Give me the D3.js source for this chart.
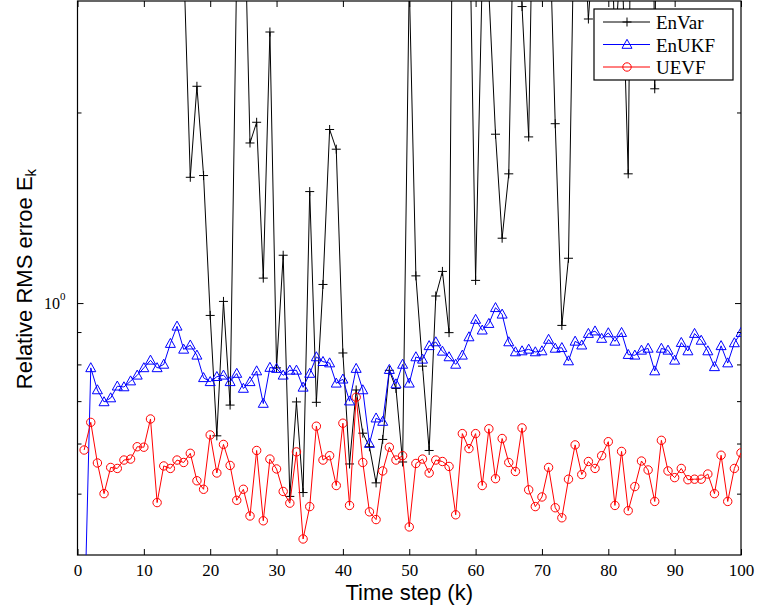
<!DOCTYPE html>
<html>
<head>
<meta charset="utf-8">
<script src="https://cdn.jsdelivr.net/npm/d3@7"></script>
<style>
body { margin: 0; background: #fff; }
.serif { font-family: "Liberation Serif", "Times New Roman", serif; }
.sans { font-family: "Liberation Sans", Arial, sans-serif; }
</style>
</head>
<body>
<script>
// time steps k = 1..100
const steps = d3.range(1, 101)

// EnVar goes far above the axis limit most of the time
const envar = [5.2, 8.1, 6.3, 4.7, 9.5, 7.2, 5.8, 12, 6.6, 4.9, 8.8, 5.5, 7.7, 10.3, 6.1,
  3.5, 1.58, 2.20, 1.59, 0.956, 0.617, 1.006, 0.690, 3.4, 5.0,
  1.79, 1.93, 1.095, 2.68, 0.79, 1.19, 0.495, 0.698, 0.502, 1.50,
  0.697, 1.07, 1.88, 1.75, 0.834, 0.557, 0.729, 0.623, 0.593, 0.520,
  0.609, 0.783, 0.733, 0.561, 3.22, 1.104, 0.795, 0.585, 1.026, 1.122,
  0.898, 19, 8, 4.66, 1.086, 3.3, 3.1, 1.848, 1.266, 1.60,
  5.9, 2.94, 1.83, 7.6, 6, 4.45, 1.92, 0.922, 1.177, 5.1,
  4.5, 2.81, 4, 3.5, 6, 2.5, 3.7, 1.60, 20, 6,
  50, 2.18, 50, 12, 7, 9, 15, 6, 11, 8, 14, 10, 7, 9, 13]

const enukf = [0.30, 0.790, 0.729, 0.698, 0.708, 0.739, 0.737, 0.753, 0.769, 0.790,
  0.812, 0.790, 0.800, 0.863, 0.919, 0.845, 0.858, 0.827, 0.762, 0.751,
  0.765, 0.769, 0.751, 0.774, 0.733, 0.751, 0.781, 0.694, 0.791, 0.788,
  0.769, 0.783, 0.783, 0.736, 0.774, 0.822, 0.808, 0.804, 0.747, 0.758,
  0.700, 0.788, 0.729, 0.600, 0.658, 0.650, 0.785, 0.745, 0.800, 0.747,
  0.822, 0.815, 0.856, 0.868, 0.839, 0.822, 0.800, 0.827, 0.884, 0.942,
  0.906, 0.928, 0.983, 0.960, 0.868, 0.837, 0.840, 0.845, 0.837, 0.840,
  0.876, 0.848, 0.850, 0.810, 0.870, 0.858, 0.895, 0.903, 0.879, 0.897,
  0.870, 0.898, 0.829, 0.827, 0.842, 0.848, 0.781, 0.848, 0.842, 0.812,
  0.866, 0.840, 0.895, 0.873, 0.840, 0.793, 0.856, 0.804, 0.865, 0.898]

const uevf = [0.586, 0.648, 0.559, 0.500, 0.550, 0.548, 0.565, 0.567, 0.593, 0.592,
  0.656, 0.484, 0.553, 0.548, 0.565, 0.560, 0.579, 0.524, 0.508, 0.619,
  0.539, 0.598, 0.554, 0.488, 0.508, 0.461, 0.585, 0.453, 0.567, 0.547,
  0.504, 0.483, 0.582, 0.424, 0.477, 0.639, 0.565, 0.574, 0.515, 0.646,
  0.479, 0.710, 0.560, 0.468, 0.455, 0.543, 0.592, 0.565, 0.574, 0.443,
  0.558, 0.567, 0.539, 0.565, 0.562, 0.552, 0.463, 0.622, 0.589, 0.622,
  0.515, 0.633, 0.528, 0.611, 0.560, 0.542, 0.635, 0.507, 0.477, 0.494,
  0.550, 0.475, 0.458, 0.527, 0.597, 0.536, 0.562, 0.548, 0.574, 0.604,
  0.479, 0.583, 0.470, 0.513, 0.563, 0.545, 0.486, 0.607, 0.543, 0.530,
  0.548, 0.526, 0.527, 0.527, 0.537, 0.500, 0.575, 0.486, 0.548, 0.580]

const seriesNames = ["EnVar", "EnUKF", "UEVF"]
const xTicks = [0, 10, 20, 30, 40, 50, 60, 70, 80, 90, 100]
const yMinorTicks = [0.5, 0.6, 0.7, 0.8, 0.9, 2]
const yMajorTicks = [1]

let w = 758
let h = 613
let pLeft = 77.5, pRight = 741, pTop = 1, pBottom = 555

let svg = d3.select("body")
  .append("svg")
  .attr("width", w)
  .attr("height", h)

let x = d3.scaleLinear().domain([0, 100]).range([pLeft, pRight])
let y = d3.scaleLog().domain([0.4, 3]).range([pBottom, pTop])

svg.append("defs").append("clipPath")
  .attr("id", "plotclip")
  .append("rect")
  .attr("x", pLeft).attr("y", pTop)
  .attr("width", pRight - pLeft).attr("height", pBottom - pTop)

// axes: ticks on all four sides, pointing inward
let xAxisB = d3.axisBottom(x).tickValues(xTicks).tickSize(-6).tickPadding(9).tickFormat(d3.format("d"))
let xAxisT = d3.axisTop(x).tickValues(xTicks).tickSize(-6).tickFormat("")

svg.append("g").attr("transform", "translate(0," + pBottom + ")").call(xAxisB)
  .attr("font-family", null).attr("font-size", null).attr("class", "serif")
  .style("font-size", "17px")
svg.append("g").attr("transform", "translate(0," + pTop + ")").call(xAxisT)

let yMinL = d3.axisLeft(y).tickValues(yMinorTicks).tickSize(-4).tickFormat("")
let yMinR = d3.axisRight(y).tickValues(yMinorTicks).tickSize(-4).tickFormat("")
let yMajL = d3.axisLeft(y).tickValues(yMajorTicks).tickSize(-6).tickFormat("")
let yMajR = d3.axisRight(y).tickValues(yMajorTicks).tickSize(-6).tickFormat("")

svg.append("g").attr("transform", "translate(" + pLeft + ",0)").call(yMinL)
svg.append("g").attr("transform", "translate(" + pRight + ",0)").call(yMinR)
svg.append("g").attr("transform", "translate(" + pLeft + ",0)").call(yMajL)
svg.append("g").attr("transform", "translate(" + pRight + ",0)").call(yMajR)

svg.selectAll(".domain").remove()
svg.selectAll(".tick line").attr("stroke", "#000")
svg.selectAll(".tick text").attr("fill", "#000")

// frame
svg.append("rect")
  .attr("x", pLeft).attr("y", pTop)
  .attr("width", pRight - pLeft).attr("height", pBottom - pTop)
  .attr("fill", "none").attr("stroke", "#000").attr("stroke-width", 1.2)

// 10^0 label
let yl = svg.append("text")
  .attr("class", "serif")
  .attr("x", pLeft - 12)
  .attr("y", y(1) + 6)
  .attr("text-anchor", "end")
  .style("font-size", "16px")
yl.append("tspan").text("10")
yl.append("tspan").attr("dy", -9).style("font-size", "11px").text("0")

// series
let plot = svg.append("g").attr("clip-path", "url(#plotclip)")

let line = d3.line().x((d, i) => x(steps[i])).y(d => y(d))

const colors = ["#000000", "#0000ff", "#ff0000"]
const datasets = [envar, enukf, uevf]

function drawMarker(g, type, color) {
  if (type === 0) {
    g.append("path").attr("d", "M-4.5,0H4.5M0,-4.5V4.5")
      .attr("stroke", color).attr("stroke-width", 1).attr("fill", "none")
  } else if (type === 1) {
    g.append("path").attr("d", "M0,-5.2L5,3.8L-5,3.8Z")
      .attr("stroke", color).attr("stroke-width", 1).attr("fill", "none")
  } else {
    g.append("circle").attr("r", 4.2)
      .attr("stroke", color).attr("stroke-width", 1).attr("fill", "none")
  }
}

datasets.forEach((data, s) => {
  plot.append("path")
    .datum(data)
    .attr("d", line)
    .attr("fill", "none")
    .attr("stroke", colors[s])
    .attr("stroke-width", 1)

  plot.selectAll(".m" + s)
    .data(data)
    .enter()
    .append("g")
    .attr("class", "m" + s)
    .attr("transform", (d, i) => "translate(" + x(steps[i]) + "," + y(d) + ")")
    .each(function() { drawMarker(d3.select(this), s, colors[s]) })
})

// legend
let legend = svg.append("g").attr("transform", "translate(594,9)")
legend.append("rect")
  .attr("width", 139).attr("height", 71)
  .attr("fill", "#fff").attr("stroke", "#000").attr("stroke-width", 1.2)

seriesNames.forEach((name, s) => {
  let row = legend.append("g").attr("transform", "translate(0," + (13 + s * 22.5) + ")")
  row.append("line")
    .attr("x1", 9).attr("x2", 56)
    .attr("stroke", colors[s]).attr("stroke-width", 1)
  drawMarker(row.append("g").attr("transform", "translate(33,0)"), s, colors[s])
  row.append("text")
    .attr("class", "serif")
    .attr("x", 62).attr("y", 7)
    .style("font-size", "19px")
    .text(name)
})

// axis labels
svg.append("text")
  .attr("class", "sans")
  .attr("x", (pLeft + pRight) / 2)
  .attr("y", 600)
  .attr("text-anchor", "middle")
  .style("font-size", "22px")
  .text("Time step (k)")

let ylab = svg.append("text")
  .attr("class", "sans")
  .attr("transform", "translate(32,279) rotate(-90)")
  .attr("text-anchor", "middle")
  .style("font-size", "22px")
ylab.append("tspan").text("Relative RMS erroe E")
ylab.append("tspan").attr("dy", 4).style("font-size", "15px").text("k")
</script>
</body>
</html>
